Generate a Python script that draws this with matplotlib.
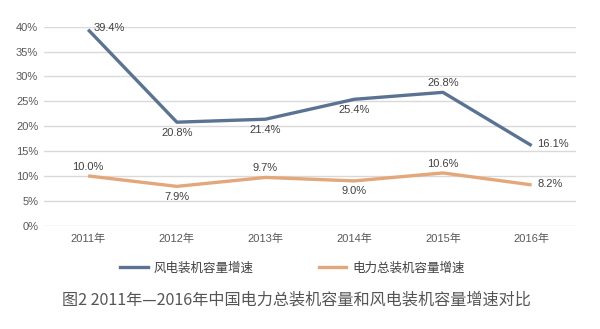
import matplotlib
matplotlib.use("Agg")
import matplotlib.pyplot as plt
from matplotlib.lines import Line2D
from matplotlib.ticker import FuncFormatter, MultipleLocator

plt.rcParams['font.family'] = ['Liberation Sans', 'Noto Sans CJK SC', 'DejaVu Sans']

years = ["2011年", "2012年", "2013年", "2014年", "2015年", "2016年"]
wind = [39.4, 20.8, 21.4, 25.4, 26.8, 16.1]
total = [10.0, 7.9, 9.7, 9.0, 10.6, 8.2]
wind_label_pos = ["right", "below", "below", "below", "above", "right"]
total_label_pos = ["above", "below", "above", "below", "above", "right"]
series_names = ["风电装机容量增速", "电力总装机容量增速"]
caption = "图2 2011年—2016年中国电力总装机容量和风电装机容量增速对比"

blue = "#5b7393"
orange = "#e3a77a"

fig = plt.figure(figsize=(6, 3.29), dpi=100)
ax = fig.add_axes([0.073, 0.314, 0.887, 0.605])
x = list(range(len(years)))

ax.plot(x, wind, color=blue, lw=2.4, solid_capstyle='butt', zorder=3)
ax.plot(x, total, color=orange, lw=2.4, solid_capstyle='butt', zorder=3)

def annotate(vals, pos):
    for i, (v, p) in enumerate(zip(vals, pos)):
        txt = f"{v:.1f}%"
        if p == "right":
            ax.annotate(txt, (i, v), xytext=(4, 1), textcoords="offset points",
                        ha="left", va="center", fontsize=8, color="#404040")
        elif p == "above":
            ax.annotate(txt, (i, v), xytext=(0, 3), textcoords="offset points",
                        ha="center", va="bottom", fontsize=8, color="#404040")
        else:
            ax.annotate(txt, (i, v), xytext=(0, -4), textcoords="offset points",
                        ha="center", va="top", fontsize=8, color="#404040")

annotate(wind, wind_label_pos)
annotate(total, total_label_pos)

ax.set_xlim(-0.5, len(years) - 0.5)
ax.set_ylim(0, 40)
ax.yaxis.set_major_locator(MultipleLocator(5))
ax.yaxis.set_major_formatter(FuncFormatter(lambda v, _: f"{v:.0f}%"))
ax.set_xticks(x)
ax.set_xticklabels(years)
ax.grid(axis='y', color="#d9d9d9", lw=1)
ax.set_axisbelow(True)
for s in ax.spines.values():
    s.set_visible(False)
ax.tick_params(axis='both', length=0, labelsize=8, colors="#595959")
ax.tick_params(axis='x', pad=6)
ax.tick_params(axis='y', pad=4)

handles = [Line2D([0], [0], color=blue, lw=2.4), Line2D([0], [0], color=orange, lw=2.4)]
fig.legend(handles, series_names, loc="center", bbox_to_anchor=(0.4875, 0.185), ncol=2,
           frameon=False, fontsize=9, handlelength=2.2, columnspacing=5.2,
           handletextpad=0.5, labelcolor="#404040")

fig.text(0.494, 0.088, caption, ha="center", va="center", fontsize=11.6, color="#555555",
         family=['Noto Sans CJK SC', 'DejaVu Sans'], fontweight='light')

fig.savefig("out.png", dpi=100, facecolor="white")
